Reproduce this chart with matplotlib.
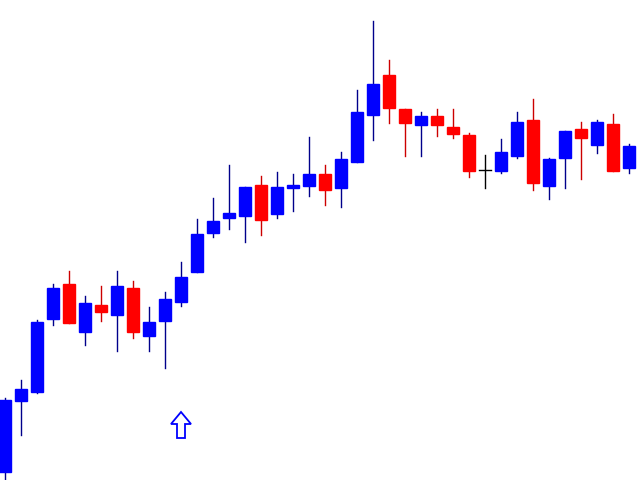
import matplotlib; matplotlib.use("Agg")
import matplotlib.pyplot as plt
from matplotlib.patches import Rectangle, Polygon

# price levels (screen units, larger = lower)
opens  = [472, 401, 392, 319, 284, 332, 305, 315, 288, 336, 321, 302, 272, 233, 218, 216, 185, 214, 188, 186,
          174, 188, 162, 115, 75, 109, 125, 116, 127, 135, 170, 171, 156, 120, 186, 158, 129, 145, 124, 168]
highs  = [398, 380, 320, 284, 271, 296, 286, 271, 281, 307, 292, 262, 219, 198, 165, 187, 176, 172, 174, 137,
          165, 152, 90, 21, 60, 109, 112, 109, 109, 133, 155, 139, 112, 99, 158, 131, 122, 120, 114, 144]
lows   = [480, 435, 393, 325, 323, 345, 321, 351, 338, 351, 368, 306, 272, 237, 229, 242, 235, 218, 211, 196,
          205, 207, 162, 140, 123, 156, 156, 136, 138, 177, 188, 173, 158, 190, 199, 188, 179, 153, 171, 173]
closes = [400, 389, 322, 288, 323, 303, 312, 286, 332, 322, 299, 277, 234, 221, 213, 187, 220, 187, 185, 174,
          190, 159, 112, 84, 108, 123, 116, 125, 134, 171, 170, 152, 122, 183, 159, 131, 138, 122, 171, 146]
signal_bar = 11
signal_level = 438

BLUE, RED, NAVY = "#0000ff", "#ff0000", "#00008b"

fig = plt.figure(figsize=(6.4, 4.8), dpi=100)
ax = fig.add_axes([0, 0, 1, 1])
ax.set_xlim(-5 / 16, 635 / 16)
ax.set_ylim(480, 0)
ax.axis("off")

w = 0.69
for i, (o, h, l, c) in enumerate(zip(opens, highs, lows, closes)):
    if c < o:
        col, wick = BLUE, NAVY
    elif c > o:
        col, wick = RED, "#cc0000"
    else:
        col, wick = "black", "black"
    ax.plot([i, i], [h, l], color=wick, lw=1.0, zorder=1)
    if c == o:
        ax.plot([i - w / 2, i + w / 2], [o, o], color="black", lw=1.0, zorder=2)
    else:
        ax.add_patch(Rectangle((i - w / 2, min(o, c)), w, abs(c - o), color=col, zorder=2))

# hollow up arrow under the signal bar
x0, y0 = signal_bar, signal_level
hw, sw, hh, tot = 10 / 16, 4 / 16, 12, 26
pts = [(x0 - sw, y0), (x0 + sw, y0), (x0 + sw, y0 - tot + hh), (x0 + hw, y0 - tot + hh),
       (x0, y0 - tot), (x0 - hw, y0 - tot + hh), (x0 - sw, y0 - tot + hh)]
ax.add_patch(Polygon(pts, closed=True, fill=False, edgecolor=BLUE, lw=1.3, zorder=3))

fig.savefig("out.png", dpi=100)
